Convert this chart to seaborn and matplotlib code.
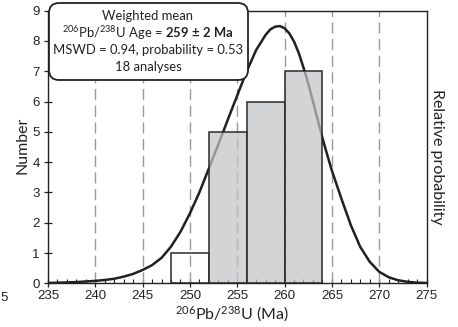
import numpy as np
import pandas as pd
import seaborn as sns
import matplotlib
matplotlib.use("Agg")
import matplotlib.pyplot as plt
from matplotlib.patches import FancyBboxPatch
from matplotlib.ticker import MultipleLocator

# ---- data ----
bin_edges = [248, 252, 256, 260, 264]
bin_counts = [1, 5, 6, 7]
curve_age = [235, 236, 237, 238, 239, 240, 241, 242, 243, 244, 245, 246, 247, 248, 249,
             250, 251, 252, 253, 254, 255, 256, 257, 258, 258.5, 259, 259.5, 260, 260.5,
             261, 261.5, 262, 262.5, 263, 263.5, 264, 264.5, 265, 266, 267, 268, 269,
             270, 271, 272, 273, 274, 275]
curve_prob = [0.01, 0.02, 0.03, 0.04, 0.06, 0.08, 0.11, 0.15, 0.22, 0.31, 0.44, 0.60, 0.84, 1.21, 1.70,
              2.31, 3.00, 3.79, 4.58, 5.40, 6.20, 7.00, 7.70, 8.20, 8.38, 8.47, 8.49, 8.42, 8.25,
              7.98, 7.60, 7.12, 6.60, 6.00, 5.40, 4.80, 4.25, 3.72, 2.80, 1.92, 1.20, 0.71,
              0.38, 0.20, 0.10, 0.05, 0.02, 0.01]
x_ticks = [235, 240, 245, 250, 255, 260, 265, 270, 275]
grid_ages = [240, 245, 250, 255, 260, 265, 270]
y_ticks = list(range(0, 10))

sns.set_theme(style="white")
plt.rcParams['font.family'] = ['Liberation Sans', 'DejaVu Sans']
plt.rcParams['mathtext.fontset'] = 'custom'
plt.rcParams['mathtext.rm'] = 'Lato'
plt.rcParams['mathtext.bf'] = 'Lato:bold'
plt.rcParams['mathtext.it'] = 'Lato:italic'

W, H = 458, 327
fig = plt.figure(figsize=(W / 100, H / 100), dpi=100)
ax = fig.add_axes([48 / W, 1 - 283.3 / H, (426.5 - 48) / W, (283.3 - 10.6) / H])

# dashed grid lines
for g in grid_ages:
    ax.axvline(g, color='#9a9a9a', lw=1.0, dashes=(8, 4), zorder=1)

# probability curve
curve_df = pd.DataFrame({'age': curve_age, 'prob': curve_prob})
sns.lineplot(data=curve_df, x='age', y='prob', ax=ax, color='#231f20', lw=1.8,
             zorder=2, estimator=None, sort=False)

# histogram bars
centers = [(a + b) / 2 for a, b in zip(bin_edges[:-1], bin_edges[1:])]
hist_df = pd.DataFrame({'age': centers, 'n': bin_counts})
sns.histplot(data=hist_df, x='age', weights='n', bins=bin_edges, ax=ax,
             stat='count', element='bars', fill=True, zorder=3)
for i, p in enumerate(ax.patches):
    if i == 0:
        p.set_facecolor((1, 1, 1, 0))
    else:
        p.set_facecolor((0.76, 0.77, 0.78, 0.72))
    p.set_edgecolor('#2a2a2a')
    p.set_linewidth(1.1)
    p.set_alpha(None)
    p.set_zorder(3)

ax.set_xlim(235, 275)
ax.set_ylim(0, 9)
ax.set_xticks(x_ticks)
ax.set_yticks(y_ticks)
ax.xaxis.set_minor_locator(MultipleLocator(1))
ax.tick_params(axis='x', which='major', direction='inout', length=6, width=0.9,
               labelsize=9.5, pad=2, colors='#222222', bottom=True)
ax.tick_params(axis='x', which='minor', direction='in', length=3, width=0.8,
               bottom=True, colors='#222222')
ax.tick_params(axis='y', which='major', direction='inout', length=6, width=0.9,
               labelsize=9.5, pad=3, colors='#222222', left=True)
for s in ax.spines.values():
    s.set_visible(True)
    s.set_color('#222222')
    s.set_linewidth(1.0)

ax.set_xlabel('')
ax.set_ylabel('')
fig.text(232 / W, 1 - 314 / H, r'$^{206}$Pb/$^{238}$U (Ma)', family=['Lato', 'DejaVu Sans'],
         fontsize=11.5, ha='center', va='center', color='#222222')
fig.text(23 / W, 1 - 145 / H, 'Number', family=['Lato', 'DejaVu Sans'], fontsize=11.5,
         rotation=90, ha='center', va='center', color='#222222')
fig.text(437 / W, 1 - 157 / H, 'Relative probability', family=['Lato', 'DejaVu Sans'],
         fontsize=11.5, rotation=-90, ha='center', va='center', color='#222222')
fig.text(0 / W, 1 - 298 / H, '5', fontsize=9.5, ha='left', va='center', color='#222222')

# annotation box (coordinates in inches; 100 px per inch)
box = FancyBboxPatch((0.49, (H - 80) / 100), 1.99, 0.77,
                     boxstyle='round,pad=0,rounding_size=0.1', transform=fig.dpi_scale_trans,
                     facecolor='white', edgecolor='#222222', lw=1.3, zorder=10)
fig.patches.append(box)
tx = 148 / W
kw = dict(ha='center', va='center', fontsize=9.4, color='#222222', zorder=11,
          family=['Lato', 'DejaVu Sans'])
fig.text(tx, 1 - 16 / H, 'Weighted mean', **kw)
fig.text(tx, 1 - 33 / H, r'$^{206}$Pb/$^{238}$U Age = $\mathbf{259\ {\pm}\ 2\ Ma}$', **kw)
fig.text(tx, 1 - 50 / H, 'MSWD = 0.94, probability = 0.53', **kw)
fig.text(tx, 1 - 67 / H, '18 analyses', **kw)

fig.savefig('out.png', dpi=100)
